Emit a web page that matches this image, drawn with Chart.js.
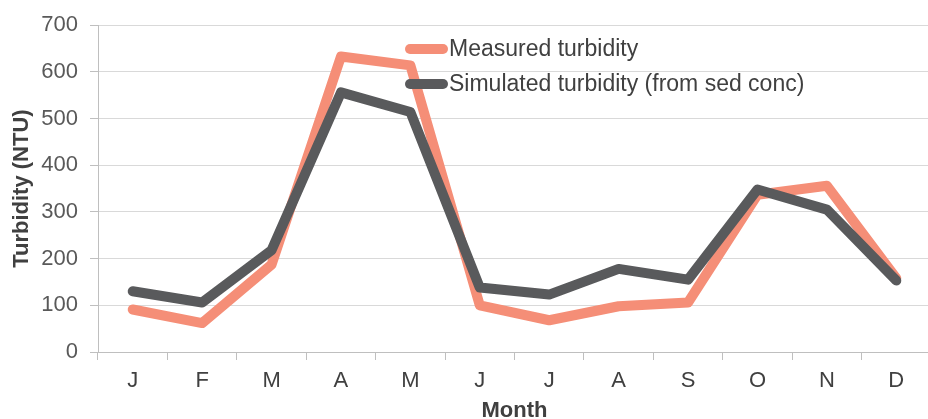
<!DOCTYPE html>
<html>
<head>
<meta charset="utf-8">
<script src="https://cdn.jsdelivr.net/npm/chart.js@4"></script>
<style>
  html, body { margin: 0; padding: 0; background: #fff; overflow: hidden; }
  #wrap { width: 932px; height: 419px; }
</style>
</head>
<body>
<div id="wrap"><canvas id="myChart" width="932" height="419"></canvas></div>
<script>
// monthly turbidity
const months = ['J', 'F', 'M', 'A', 'M', 'J', 'J', 'A', 'S', 'O', 'N', 'D'];
const measured = [91, 62, 187, 633, 614, 100, 68, 98, 106, 337, 356, 158];
const simulated = [130, 106, 218, 556, 514, 138, 123, 178, 155, 348, 305, 153];
const yTicks = [0, 100, 200, 300, 400, 500, 600, 700];

const FONT = '"Liberation Sans", Arial, sans-serif';

// legend sits inside the plot, drawn by hand
const insideLegend = {
  id: 'insideLegend',
  afterDraw(chart) {
    const ctx = chart.ctx;
    const x0 = 405, x1 = 448;
    const rows = [49, 84];
    ctx.save();
    chart.data.datasets.forEach((ds, i) => {
      const y = rows[i];
      ctx.strokeStyle = ds.borderColor;
      ctx.lineWidth = 10;
      ctx.lineCap = 'round';
      ctx.beginPath();
      ctx.moveTo(x0 + 5, y);
      ctx.lineTo(x1 - 5, y);
      ctx.stroke();
      ctx.fillStyle = '#404040';
      ctx.font = '23px ' + FONT;
      ctx.textBaseline = 'middle';
      ctx.fillText(ds.label, x1 + 1, y + 1);
    });
    ctx.restore();
  }
};

let chart = document.getElementById('myChart');
new Chart(chart, {
  type: 'line',
  data: {
    labels: months,
    datasets: [
      {
        label: 'Measured turbidity',
        data: measured,
        borderColor: '#F58E77',
        borderWidth: 10,
        pointRadius: 0,
        tension: 0,
        order: 1,
        borderJoinStyle: 'round',
        borderCapStyle: 'round'
      },
      {
        label: 'Simulated turbidity (from sed conc)',
        data: simulated,
        borderColor: '#595A5C',
        borderWidth: 10,
        pointRadius: 0,
        tension: 0,
        order: 0,
        borderJoinStyle: 'round',
        borderCapStyle: 'round'
      }
    ]
  },
  options: {
    responsive: false,
    animation: false,
    layout: { padding: { top: 22, left: 0, right: 1, bottom: 0 } },
    plugins: {
      legend: { display: false },
      tooltip: { enabled: false }
    },
    scales: {
      x: {
        offset: true,
        grid: {
          offset: true,
          drawOnChartArea: false,
          drawTicks: true,
          tickLength: 8,
          color: '#BFBFBF'
        },
        border: { display: true, color: '#BFBFBF', width: 1 },
        ticks: {
          color: '#404040',
          font: { family: FONT, size: 22 },
          padding: 8,
          maxRotation: 0
        },
        title: {
          display: true,
          text: 'Month',
          color: '#404040',
          font: { family: FONT, size: 22, weight: 'bold' },
          padding: { top: 0, bottom: -5 }
        },
        afterFit(scale) { scale.height = 67; }
      },
      y: {
        min: 0,
        max: 700,
        afterBuildTicks(scale) {
          scale.ticks = yTicks.map(v => ({ value: v }));
        },
        grid: {
          color: '#D9D9D9',
          drawTicks: true,
          tickLength: 8,
          tickColor: '#BFBFBF'
        },
        border: { display: true, color: '#BFBFBF', width: 1 },
        ticks: {
          color: '#595959',
          font: { family: FONT, size: 22 },
          padding: 12
        },
        title: {
          display: true,
          text: 'Turbidity (NTU)',
          color: '#404040',
          font: { family: FONT, size: 22, weight: 'bold' },
          padding: { top: 9, bottom: 0 }
        },
        afterFit(scale) { scale.width = 98; }
      }
    }
  },
  plugins: [insideLegend]
});
</script>
</body>
</html>
